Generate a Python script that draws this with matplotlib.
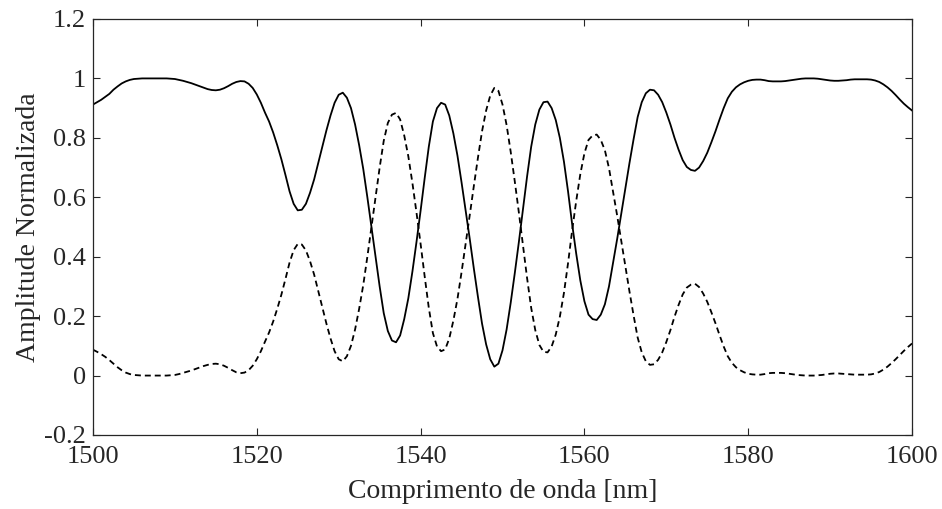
import numpy as np
import matplotlib
matplotlib.use('Agg')
import matplotlib.pyplot as plt
from matplotlib.ticker import FuncFormatter

# comprimento de onda, passo de 0.5 nm (1500 ... 1600)
wavelength = np.arange(1500, 1600.01, 0.5)

# porta direta (linha continua)
solid = [
    0.912, 0.920, 0.928, 0.938, 0.948, 0.962, 0.973, 0.983, 0.990, 0.995,
    0.998, 0.999, 1.000, 1.000, 1.000, 1.000, 1.000, 1.000, 1.000, 0.999,
    0.998, 0.995, 0.992, 0.988, 0.984, 0.979, 0.974, 0.969, 0.964, 0.961,
    0.960, 0.962, 0.967, 0.974, 0.982, 0.988, 0.991, 0.990, 0.982, 0.968,
    0.946, 0.918, 0.885, 0.855, 0.818, 0.775, 0.728, 0.675, 0.620, 0.578,
    0.556, 0.558, 0.578, 0.615, 0.660, 0.715, 0.770, 0.825, 0.875, 0.918,
    0.945, 0.952, 0.935, 0.900, 0.845, 0.775, 0.695, 0.600, 0.500, 0.400,
    0.300, 0.210, 0.150, 0.118, 0.112, 0.135, 0.190, 0.260, 0.350, 0.450,
    0.555, 0.665, 0.770, 0.855, 0.900, 0.918, 0.912, 0.875, 0.815, 0.740,
    0.650, 0.555, 0.460, 0.360, 0.265, 0.175, 0.105, 0.055, 0.030, 0.040,
    0.085, 0.155, 0.245, 0.345, 0.450, 0.560, 0.670, 0.770, 0.845, 0.895,
    0.920, 0.922, 0.900, 0.860, 0.800, 0.720, 0.620, 0.510, 0.410, 0.320,
    0.250, 0.205, 0.190, 0.187, 0.205, 0.240, 0.300, 0.380, 0.460, 0.545,
    0.630, 0.715, 0.795, 0.870, 0.920, 0.950, 0.962, 0.960, 0.945, 0.920,
    0.885, 0.845, 0.800, 0.760, 0.725, 0.702, 0.692, 0.689, 0.700, 0.722,
    0.750, 0.785, 0.822, 0.862, 0.900, 0.933, 0.955, 0.970, 0.980, 0.987,
    0.992, 0.995, 0.996, 0.996, 0.994, 0.991, 0.990, 0.990, 0.990, 0.991,
    0.993, 0.995, 0.997, 0.999, 1.000, 1.000, 1.000, 0.999, 0.997, 0.995,
    0.993, 0.992, 0.992, 0.993, 0.994, 0.996, 0.997, 0.997, 0.997, 0.997,
    0.996, 0.993, 0.988, 0.980, 0.970, 0.958, 0.944, 0.929, 0.915, 0.903,
    0.892,
]

# porta cruzada (tracejada)
dashed = [
    0.087, 0.080, 0.072, 0.063, 0.052, 0.040, 0.028, 0.018, 0.010, 0.005,
    0.002, 0.001, 0.000, 0.000, 0.000, 0.000, 0.000, 0.000, 0.000, 0.001,
    0.002, 0.005, 0.009, 0.013, 0.017, 0.022, 0.027, 0.032, 0.036, 0.039,
    0.040, 0.038, 0.033, 0.026, 0.018, 0.011, 0.008, 0.010, 0.018, 0.033,
    0.055, 0.082, 0.114, 0.145, 0.182, 0.225, 0.272, 0.325, 0.380, 0.422,
    0.443, 0.441, 0.421, 0.385, 0.340, 0.285, 0.230, 0.175, 0.125, 0.082,
    0.055, 0.048, 0.065, 0.100, 0.155, 0.225, 0.305, 0.400, 0.500, 0.600,
    0.700, 0.790, 0.850, 0.878, 0.884, 0.862, 0.808, 0.738, 0.648, 0.548,
    0.443, 0.333, 0.228, 0.143, 0.098, 0.082, 0.088, 0.125, 0.185, 0.258,
    0.348, 0.443, 0.540, 0.638, 0.733, 0.822, 0.892, 0.942, 0.968, 0.958,
    0.912, 0.843, 0.753, 0.653, 0.548, 0.438, 0.328, 0.228, 0.153, 0.103,
    0.080, 0.078, 0.098, 0.138, 0.198, 0.278, 0.378, 0.488, 0.588, 0.678,
    0.748, 0.793, 0.808, 0.811, 0.793, 0.758, 0.698, 0.618, 0.538, 0.453,
    0.368, 0.283, 0.203, 0.128, 0.078, 0.048, 0.036, 0.038, 0.053, 0.078,
    0.113, 0.153, 0.198, 0.238, 0.273, 0.296, 0.306, 0.309, 0.298, 0.276,
    0.248, 0.213, 0.176, 0.136, 0.098, 0.065, 0.043, 0.028, 0.018, 0.011,
    0.006, 0.004, 0.003, 0.003, 0.005, 0.008, 0.009, 0.009, 0.009, 0.008,
    0.006, 0.004, 0.002, 0.001, 0.000, 0.000, 0.000, 0.001, 0.002, 0.004,
    0.006, 0.007, 0.007, 0.006, 0.005, 0.004, 0.003, 0.003, 0.003, 0.003,
    0.004, 0.007, 0.012, 0.020, 0.030, 0.042, 0.055, 0.069, 0.083, 0.096,
    0.108,
]

x_ticks = [1500, 1520, 1540, 1560, 1580, 1600]
y_ticks = [-0.2, 0, 0.2, 0.4, 0.6, 0.8, 1, 1.2]

plt.rcParams['font.family'] = ['Liberation Serif', 'DejaVu Serif']
plt.rcParams['axes.unicode_minus'] = False
axis_color = '#262626'

fig = plt.figure(figsize=(9.42, 5.09), dpi=100)
ax = fig.add_axes([0.0987, 0.1454, 0.8695, 0.8173])

ax.plot(wavelength, solid, color='black', lw=1.3)
ax.plot(wavelength, dashed, color='black', lw=1.3, linestyle=(0, (3.3, 2.2)))

ax.set_xlim(1500, 1600)
ax.set_ylim(-0.2, 1.2)
ax.set_xticks(x_ticks)
ax.set_yticks(y_ticks)
ax.yaxis.set_major_formatter(FuncFormatter(lambda v, p: f'{v:g}'))
ax.tick_params(direction='in', length=5, width=0.8, top=True, right=True,
               labelsize=19, colors=axis_color)
ax.tick_params(axis='x', pad=8)
ax.tick_params(axis='y', pad=5)
for side in ax.spines.values():
    side.set_color(axis_color)
    side.set_linewidth(0.9)

ax.set_xlabel('Comprimento de onda [nm]', fontsize=20, color=axis_color, labelpad=8)
ax.set_ylabel('Amplitude Normalizada', fontsize=20, color=axis_color, labelpad=2)

fig.savefig('out.png', dpi=100)
